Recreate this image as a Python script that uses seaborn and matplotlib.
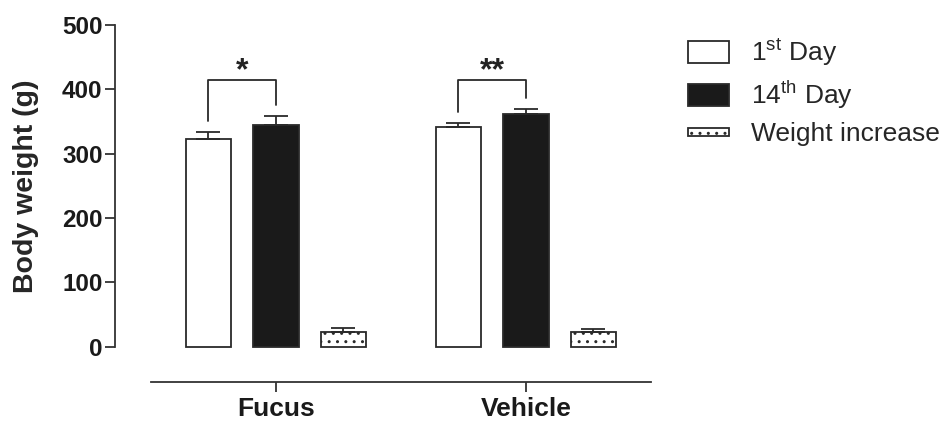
import numpy as np
import pandas as pd
import matplotlib
matplotlib.use("Agg")
import matplotlib.pyplot as plt
import seaborn as sns
from matplotlib.patches import Patch, Rectangle
from matplotlib.legend_handler import HandlerPatch

# data
groups = ["Fucus", "Vehicle"]
series = ["1st Day", "14th Day", "Weight increase"]
day1 = [323, 341]
day14 = [344, 362]
increase = [23, 22]
day1_err = [11, 7]
day14_err = [15, 8]
increase_err = [6, 5]
stars = ["*", "**"]
bracket_top = [414, 414]

sns.set_style("ticks")
plt.rcParams["font.family"] = ["Liberation Sans", "DejaVu Sans"]
plt.rcParams["mathtext.fontset"] = "custom"
plt.rcParams["mathtext.rm"] = "Liberation Sans"
plt.rcParams["hatch.linewidth"] = 1.0

df = pd.DataFrame({
    "Group": groups * 3,
    "Series": [s for s in series for _ in groups],
    "Weight": day1 + day14 + increase,
})
errs = [day1_err, day14_err, increase_err]

fig = plt.figure(figsize=(9.41, 4.21), dpi=100)
ax = fig.add_axes([0.1222, 0.0926, 0.5717, 0.848])

edge = "#2a2a2a"
sns.barplot(data=df, x="Group", y="Weight", hue="Series", hue_order=series,
            palette=["white", "#1a1a1a", "white"], width=0.81, gap=0.32,
            errorbar=None, edgecolor=edge, linewidth=1.3, legend=False, ax=ax)

for bar in ax.containers[2]:
    bar.set_hatch("..")

# upper-only error bars
centers = []
for cont, err in zip(ax.containers, errs):
    xs = [b.get_x() + b.get_width() / 2 for b in cont]
    hs = [b.get_height() for b in cont]
    centers.append(xs)
    ax.errorbar(xs, hs, yerr=[np.zeros(len(err)), err], fmt="none",
                ecolor=edge, elinewidth=1.3, capsize=8.5, capthick=1.3, zorder=3)

# significance brackets
gap = 17
for i in range(len(groups)):
    x0, x1 = centers[0][i], centers[1][i]
    y0 = day1[i] + day1_err[i] + gap
    y1 = day14[i] + day14_err[i] + gap
    top = bracket_top[i]
    ax.plot([x0, x0, x1, x1], [y0, top, top, y1], color=edge, lw=1.3)
    ax.text((x0 + x1) / 2, top + 2, stars[i], ha="center", va="baseline",
            fontsize=23, fontweight="bold", color="#222")

ax.set_ylim(-55, 500)
ax.set_xlim(-0.644, 1.508)
ax.set_yticks([0, 100, 200, 300, 400, 500])
ax.spines["left"].set_bounds(0, 500)
ax.spines["bottom"].set_bounds(-0.5, 1.5)
for s in ["left", "bottom"]:
    ax.spines[s].set_linewidth(1.3)
    ax.spines[s].set_color("#333")
sns.despine(ax=ax)
ax.tick_params(axis="both", length=7.5, width=1.3, color="#333")
ax.tick_params(axis="y", labelsize=17.5, pad=1.5)
ax.tick_params(axis="x", labelsize=19, pad=3)
for lab in ax.get_yticklabels() + ax.get_xticklabels():
    lab.set_fontweight("bold")
    lab.set_color("#1a1a1a")
ax.set_xlabel("")
ax.set_ylabel("Body weight (g)", fontsize=20.5, fontweight="bold")
ax.yaxis.set_label_coords(-0.141, 0.549)


def small_box(legend, orig_handle, xdescent, ydescent, width, height, fontsize):
    h = height * 0.4
    return Rectangle((-xdescent, -ydescent + (height - h) / 2), width, h)


handles = [
    Patch(facecolor="white", edgecolor=edge, linewidth=1.3),
    Patch(facecolor="#1a1a1a", edgecolor=edge, linewidth=1.3),
    Patch(facecolor="white", edgecolor=edge, linewidth=1.3, hatch=".."),
]
labels = ["1$^{\\mathrm{st}}$ Day", "14$^{\\mathrm{th}}$ Day", "Weight increase"]
fig.legend(handles, labels, loc="upper left", bbox_to_anchor=(0.731, 0.913),
           frameon=False, fontsize=19, handlelength=1.55, handleheight=0.9,
           handletextpad=0.85, labelspacing=0.38, borderaxespad=0, borderpad=0,
           handler_map={handles[2]: HandlerPatch(patch_func=small_box)})

fig.savefig("out.png", dpi=100)
